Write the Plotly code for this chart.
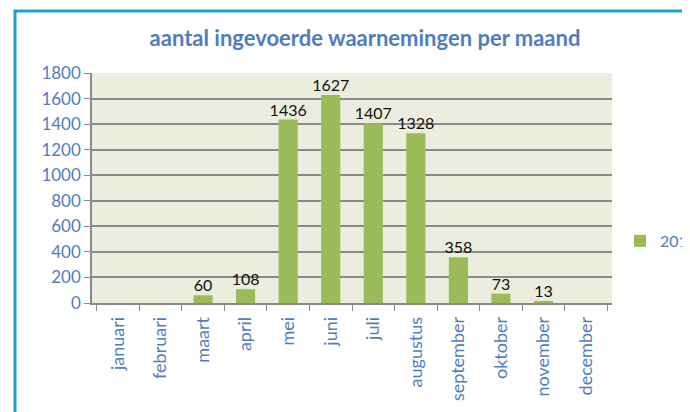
import plotly.graph_objects as go

months = ["januari", "februari", "maart", "april", "mei", "juni", "juli",
          "augustus", "september", "oktober", "november", "december"]
counts_2017 = [0, 0, 60, 108, 1436, 1627, 1407, 1328, 358, 73, 13, 0]
series_name = "2017"
title_text = "aantal ingevoerde waarnemingen per maand"

W, H = 690, 412
OFF = 8  # page body margin offset
L, R, T, B = 92 - OFF, 612 - OFF, 73 - OFF, 303 - OFF
pw, ph = R - L, B - T

blue = "#4F7DC0"
font_family = "Lato, 'Open Sans', sans-serif"

labels = [str(v) if v > 0 else "" for v in counts_2017]

fig = go.Figure()
fig.add_trace(go.Bar(
    x=months, y=counts_2017, name=series_name,
    marker=dict(color="#9BBB59", line=dict(width=0)),
    width=0.45,
    showlegend=True,
))
fig.add_trace(go.Scatter(
    x=months, y=counts_2017, mode="text", text=labels,
    textposition="top center", cliponaxis=False, showlegend=False,
    textfont=dict(color="#111111", size=16, family=font_family),
    hoverinfo="skip",
))

fig.update_layout(
    width=W, height=H,
    margin=dict(l=L, r=W - R, t=T, b=H - B, autoexpand=False),
    paper_bgcolor="white",
    plot_bgcolor="#EBEEDF",
    title=dict(text=title_text, x=(365 - OFF) / W, xref="container", xanchor="center",
               y=1 - (38 - OFF) / H, yref="container", yanchor="middle",
               font=dict(family=font_family, size=22, color=blue, weight="bold")),
    font=dict(family=font_family, color=blue, size=16),
    showlegend=True,
    legend=dict(x=(620 - OFF - L) / pw, y=(B - (241 - OFF)) / ph, xanchor="left", yanchor="middle",
                font=dict(size=16, color=blue), bgcolor="rgba(0,0,0,0)",
                itemwidth=30),
    bargap=0.55,
)

fig.update_yaxes(range=[0, 1800], dtick=200, showgrid=True, gridcolor="#8A8A8A",
                 gridwidth=1.5, showline=True, linecolor="#8A8A8A", linewidth=1.5,
                 ticks="outside", ticklen=6, tickcolor="#8A8A8A",
                 tickfont=dict(size=17, color=blue), zeroline=False, fixedrange=True,
                 automargin=False)
fig.update_xaxes(showline=True, linecolor="#8A8A8A", linewidth=1.5,
                 ticks="outside", ticklen=6, tickcolor="#8A8A8A", tickson="boundaries",
                 tickangle=-90, tickfont=dict(size=18, color=blue),
                 ticklabelstandoff=5, fixedrange=True, automargin=False)

# cyan frame (left and top edges visible)
fx, fy = 15 - OFF, 11 - OFF
fig.add_shape(type="path", xref="paper", yref="paper",
              path=f"M {(fx - L) / pw} {(B - 430) / ph} L {(fx - L) / pw} {(B - fy) / ph} L {(720 - L) / pw} {(B - fy) / ph}",
              line=dict(color="#1DA1D2", width=3), layer="above")

fig.write_html("out.html")
